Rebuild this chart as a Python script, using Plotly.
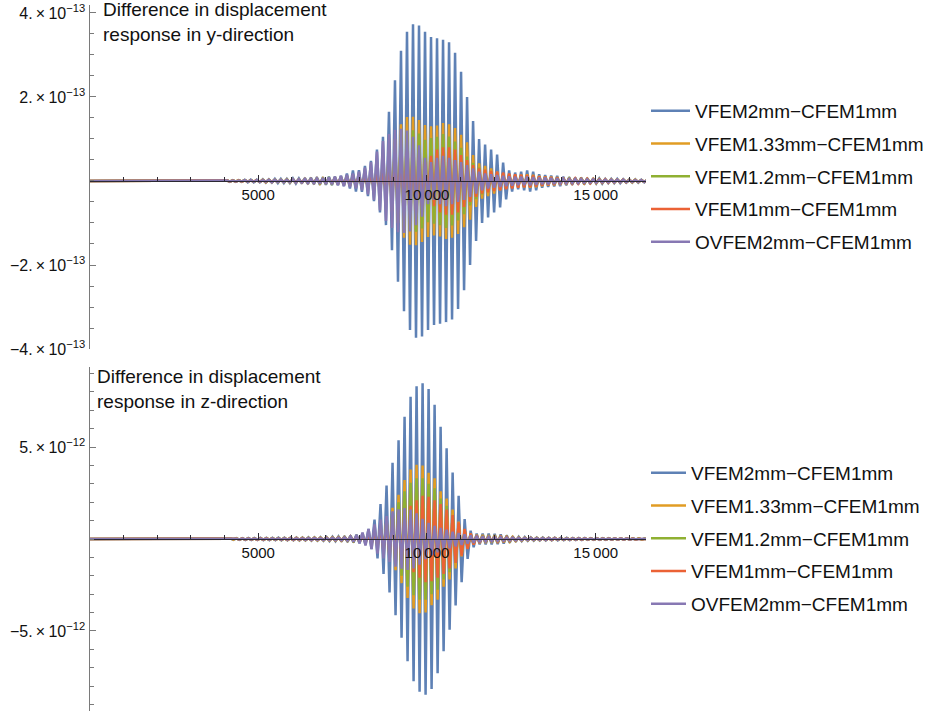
import plotly.graph_objects as go

# ---------------- data ----------------
series_names = ["VFEM2mm\u2212CFEM1mm", "VFEM1.33mm\u2212CFEM1mm", "VFEM1.2mm\u2212CFEM1mm",
                "VFEM1mm\u2212CFEM1mm", "OVFEM2mm\u2212CFEM1mm"]
series_colors = ["#5E81B5", "#E19C24", "#8FB032", "#EB6235", "#8778B3"]

cycle_length = 178.0        # time units between successive positive peaks
y_first_peak = 4068.0       # time of first listed peak, y-direction panel
z_first_peak = 4174.0       # time of first listed peak, z-direction panel
x_max = 16490

# peak amplitude of each oscillation cycle, y-direction (x 1e-13)
y_vfem2 = [0.02,0.02,0.02,0.03,0.03,0.03,0.04,0.04,0.05,0.05,
           0.05,0.06,0.06,0.07,0.08,0.09,0.09,0.10,0.10,0.12,
           0.18,0.25,0.26,0.36,0.48,0.75,1.05,1.65,2.40,3.10,
           3.55,3.73,3.70,3.55,3.43,3.40,3.36,3.30,3.05,2.60,
           2.00,1.43,1.00,0.87,0.75,0.63,0.44,0.25,0.20,0.22,
           0.25,0.22,0.16,0.14,0.13,0.12,0.10,0.09,0.08,0.08,
           0.07,0.06,0.06,0.05,0.05,0.05,0.04,0.04,0.04,0.03,0.03]
y_vfem133 = [0.01,0.01,0.02,0.02,0.02,0.02,0.03,0.03,0.03,0.03,
             0.04,0.04,0.04,0.05,0.05,0.06,0.06,0.07,0.08,0.09,
             0.11,0.13,0.15,0.18,0.22,0.32,0.48,0.72,1.00,1.35,
             1.52,1.53,1.45,1.33,1.30,1.32,1.38,1.35,1.26,1.10,
             0.92,0.62,0.42,0.36,0.30,0.22,0.18,0.15,0.14,0.15,
             0.16,0.15,0.12,0.11,0.10,0.09,0.08,0.07,0.07,0.06,
             0.05,0.05,0.04,0.04,0.04,0.03,0.03,0.03,0.03,0.02,0.02]
y_vfem12 = [0.01,0.01,0.01,0.02,0.02,0.02,0.02,0.02,0.03,0.03,
            0.03,0.03,0.03,0.04,0.04,0.05,0.05,0.06,0.06,0.07,
            0.09,0.10,0.12,0.15,0.18,0.26,0.38,0.58,0.82,1.08,
            1.18,1.21,1.13,0.98,1.02,1.05,1.12,1.06,0.94,0.79,
            0.58,0.43,0.32,0.25,0.22,0.16,0.13,0.12,0.11,0.12,
            0.12,0.11,0.10,0.09,0.08,0.07,0.06,0.06,0.05,0.05,
            0.04,0.04,0.04,0.03,0.03,0.03,0.03,0.02,0.02,0.02,0.02]
y_vfem1 = [0.01,0.01,0.01,0.01,0.01,0.02,0.02,0.02,0.02,0.02,
           0.02,0.03,0.03,0.03,0.03,0.04,0.04,0.04,0.05,0.06,
           0.07,0.08,0.10,0.12,0.15,0.20,0.26,0.33,0.42,0.55,
           0.70,0.75,0.62,0.45,0.60,0.75,0.80,0.80,0.75,0.62,
           0.50,0.38,0.30,0.27,0.24,0.22,0.20,0.18,0.16,0.15,
           0.14,0.13,0.11,0.10,0.09,0.08,0.07,0.06,0.06,0.05,
           0.05,0.04,0.04,0.04,0.03,0.03,0.03,0.02,0.02,0.02,0.02]
y_ovfem2 = [0.01,0.01,0.01,0.02,0.02,0.02,0.02,0.03,0.03,0.03,
            0.03,0.04,0.04,0.05,0.05,0.06,0.07,0.08,0.10,0.12,
            0.15,0.18,0.22,0.32,0.45,0.70,0.95,1.12,1.22,1.24,
            1.20,1.05,0.85,0.55,0.45,0.55,0.60,0.55,0.50,0.45,
            0.38,0.30,0.22,0.18,0.16,0.14,0.12,0.11,0.10,0.10,
            0.10,0.09,0.08,0.08,0.07,0.06,0.06,0.05,0.05,0.04,
            0.04,0.04,0.03,0.03,0.03,0.03,0.03,0.02,0.02,0.02,0.02]

# peak amplitude of each oscillation cycle, z-direction (x 1e-12)
z_vfem2 = [0.04,0.04,0.05,0.05,0.05,0.06,0.06,0.06,0.07,0.07,
           0.07,0.08,0.08,0.09,0.09,0.10,0.11,0.12,0.14,0.16,
           0.19,0.24,0.32,0.55,1.05,1.90,2.90,4.15,5.37,6.65,
           7.73,8.30,8.47,8.15,7.30,6.10,4.93,3.62,2.35,1.08,
           0.45,0.30,0.30,0.30,0.28,0.25,0.20,0.15,0.12,0.10,
           0.09,0.08,0.08,0.07,0.07,0.06,0.06,0.05,0.05,0.05,
           0.04,0.04,0.04,0.04,0.03,0.03,0.03,0.03,0.03,0.02,0.02]
z_vfem133 = [0.03,0.03,0.03,0.03,0.04,0.04,0.04,0.04,0.05,0.05,
             0.05,0.06,0.06,0.06,0.07,0.07,0.08,0.09,0.10,0.11,
             0.14,0.17,0.20,0.30,0.45,0.70,1.10,1.70,2.40,3.20,
             3.77,4.04,4.00,3.60,3.30,2.60,2.20,1.60,0.95,0.50,
             0.30,0.22,0.22,0.21,0.20,0.18,0.14,0.11,0.09,0.07,
             0.06,0.06,0.05,0.05,0.05,0.04,0.04,0.04,0.04,0.03,
             0.03,0.03,0.03,0.03,0.02,0.02,0.02,0.02,0.02,0.02,0.02]
z_vfem12 = [0.02,0.02,0.03,0.03,0.03,0.03,0.04,0.04,0.04,0.04,
            0.04,0.05,0.05,0.05,0.06,0.06,0.07,0.07,0.08,0.10,
            0.12,0.14,0.16,0.24,0.36,0.55,0.90,1.40,2.00,2.60,
            3.05,3.30,3.30,3.00,2.75,2.20,1.80,1.30,0.80,0.42,
            0.25,0.19,0.19,0.18,0.17,0.15,0.12,0.09,0.07,0.06,
            0.05,0.05,0.05,0.04,0.04,0.04,0.04,0.03,0.03,0.03,
            0.03,0.03,0.02,0.02,0.02,0.02,0.02,0.02,0.02,0.01,0.01]
z_vfem1 = [0.02,0.02,0.02,0.02,0.03,0.03,0.03,0.03,0.03,0.04,
           0.04,0.04,0.04,0.05,0.05,0.05,0.06,0.06,0.07,0.08,
           0.10,0.12,0.15,0.20,0.30,0.45,0.65,0.90,1.20,1.50,
           1.80,2.10,2.35,2.30,2.10,1.90,1.60,1.30,0.90,0.55,
           0.30,0.20,0.16,0.15,0.14,0.12,0.10,0.08,0.06,0.05,
           0.05,0.04,0.04,0.04,0.04,0.03,0.03,0.03,0.03,0.03,
           0.02,0.02,0.02,0.02,0.02,0.02,0.02,0.02,0.01,0.01,0.01]
z_ovfem2 = [0.02,0.02,0.02,0.02,0.02,0.02,0.03,0.03,0.03,0.03,
            0.03,0.03,0.04,0.04,0.04,0.05,0.05,0.06,0.07,0.09,
            0.14,0.22,0.35,0.55,0.80,1.05,1.25,1.50,1.62,1.68,
            1.60,1.40,1.10,0.88,0.72,0.60,0.50,0.40,0.32,0.25,
            0.20,0.17,0.14,0.12,0.11,0.10,0.08,0.07,0.06,0.05,
            0.05,0.04,0.04,0.04,0.03,0.03,0.03,0.03,0.03,0.02,
            0.02,0.02,0.02,0.02,0.02,0.02,0.02,0.01,0.01,0.01,0.01]

y_panel = [y_vfem2, y_vfem133, y_vfem12, y_vfem1, y_ovfem2]
z_panel = [z_vfem2, z_vfem133, z_vfem12, z_vfem1, z_ovfem2]
y_unit = 1e-13
z_unit = 1e-12

y_tick_vals = [-4e-13, -2e-13, 2e-13, 4e-13]
y_tick_text = ["\u22124.\u2009\u00d7\u200910<sup>\u221213</sup>", "\u22122.\u2009\u00d7\u200910<sup>\u221213</sup>",
               "2.\u2009\u00d7\u200910<sup>\u221213</sup>", "4.\u2009\u00d7\u200910<sup>\u221213</sup>"]
y_minor_vals = [i * 0.5e-13 for i in range(-8, 9)]
z_tick_vals = [-5e-12, 5e-12]
z_tick_text = ["\u22125.\u2009\u00d7\u200910<sup>\u221212</sup>", "5.\u2009\u00d7\u200910<sup>\u221212</sup>"]
z_minor_vals = [i * 1e-12 for i in range(-9, 10)]
x_tick_vals = [5000, 10000, 15000]
x_tick_text = ["5000", "10\u2009000", "15\u2009000"]
x_minor_vals = [i * 1000 for i in range(0, 17)]


def waveform(first_peak, amps, unit):
    xs, ys = [0.0], [0.0]
    for k, a in enumerate(amps):
        xk = first_peak + k * cycle_length
        xs += [xk, xk + cycle_length / 2]
        ys += [a * unit, -a * unit]
    return xs, ys


FONT = "Liberation Sans, Arial, sans-serif"
LW = 2.5
fig = go.Figure()

for i in range(5):
    xs, ys = waveform(y_first_peak, y_panel[i], y_unit)
    fig.add_trace(go.Scatter(x=xs, y=ys, mode="lines", name=series_names[i],
                             line=dict(color=series_colors[i], width=LW),
                             xaxis="x", yaxis="y", legend="legend",
                             legendgroup="a%d" % i))
for i in range(5):
    xs, ys = waveform(z_first_peak, z_panel[i], z_unit)
    fig.add_trace(go.Scatter(x=xs, y=ys, mode="lines", name=series_names[i],
                             line=dict(color=series_colors[i], width=LW),
                             xaxis="x2", yaxis="y2", legend="legend2",
                             legendgroup="b%d" % i))

W, H = 932, 711
xdom = [89.5 / W, 646 / W]

def xaxis_cfg(pos):
    return dict(domain=xdom, range=[0, x_max], anchor="free", position=pos,
                showline=True, linecolor="#2b2833", linewidth=1.3,
                ticks="inside", ticklen=6, tickcolor="#2b2833", tickwidth=1.2,
                tickvals=x_tick_vals, ticktext=x_tick_text,
                minor=dict(tickvals=x_minor_vals, ticks="inside", ticklen=4,
                           tickcolor="#2b2833", tickwidth=1),
                showgrid=False, zeroline=False, layer="above traces",
                automargin=False, ticklabelstandoff=0,
                tickfont=dict(family=FONT, size=15, color="#111"))

def yaxis_cfg(dom, rng, tv, tt, mv, xanchor):
    return dict(domain=dom, range=rng, anchor=xanchor, side="left",
                showline=True, linecolor="#7a7a7a", linewidth=1.2,
                ticks="inside", ticklen=6, tickcolor="#7a7a7a",
                tickvals=tv, ticktext=tt,
                minor=dict(tickvals=mv, ticks="inside", ticklen=4, tickcolor="#7a7a7a"),
                showgrid=False, zeroline=False, layer="above traces",
                automargin=False,
                tickfont=dict(family=FONT, size=16, color="#111"))

fig.update_layout(
    template="none",
    width=W, height=H, margin=dict(l=0, r=0, t=0, b=0, autoexpand=False),
    paper_bgcolor="white", plot_bgcolor="white",
    showlegend=True,
    xaxis=xaxis_cfg(1 - 181 / H),
    yaxis=yaxis_cfg([1 - 349 / H, 1 - 5 / H], [-4.0e-13, 4.19e-13],
                    y_tick_vals, y_tick_text, y_minor_vals, "x"),
    xaxis2=xaxis_cfg(1 - 539 / H),
    yaxis2=yaxis_cfg([0, 1 - 367 / H], [-9.35e-12, 9.35e-12],
                     z_tick_vals, z_tick_text, z_minor_vals, "x2"),
    legend=dict(x=646 / W, y=1 - 92 / H, xanchor="left", yanchor="top",
                font=dict(family=FONT, size=19, color="#111"),
                tracegroupgap=5, itemwidth=39, bgcolor="rgba(0,0,0,0)"),
    legend2=dict(x=646 / W, y=1 - 454 / H, xanchor="left", yanchor="top",
                 font=dict(family=FONT, size=19, color="#111"),
                 tracegroupgap=5, itemwidth=35, bgcolor="rgba(0,0,0,0)"),
    annotations=[
        dict(text="Difference in displacement<br>response in y-direction",
             xref="paper", yref="paper", x=101 / W, y=1 + 3 / H,
             xanchor="left", yanchor="top", align="left", showarrow=False,
             font=dict(family=FONT, size=19, color="#111")),
        dict(text="Difference in displacement<br>response in z-direction",
             xref="paper", yref="paper", x=95 / W, y=1 - 364 / H,
             xanchor="left", yanchor="top", align="left", showarrow=False,
             font=dict(family=FONT, size=19, color="#111")),
    ],
)

fig.write_html("out.html", config={"displayModeBar": False},
               post_script="document.body.style.margin='0px';document.body.style.overflow='hidden';")
